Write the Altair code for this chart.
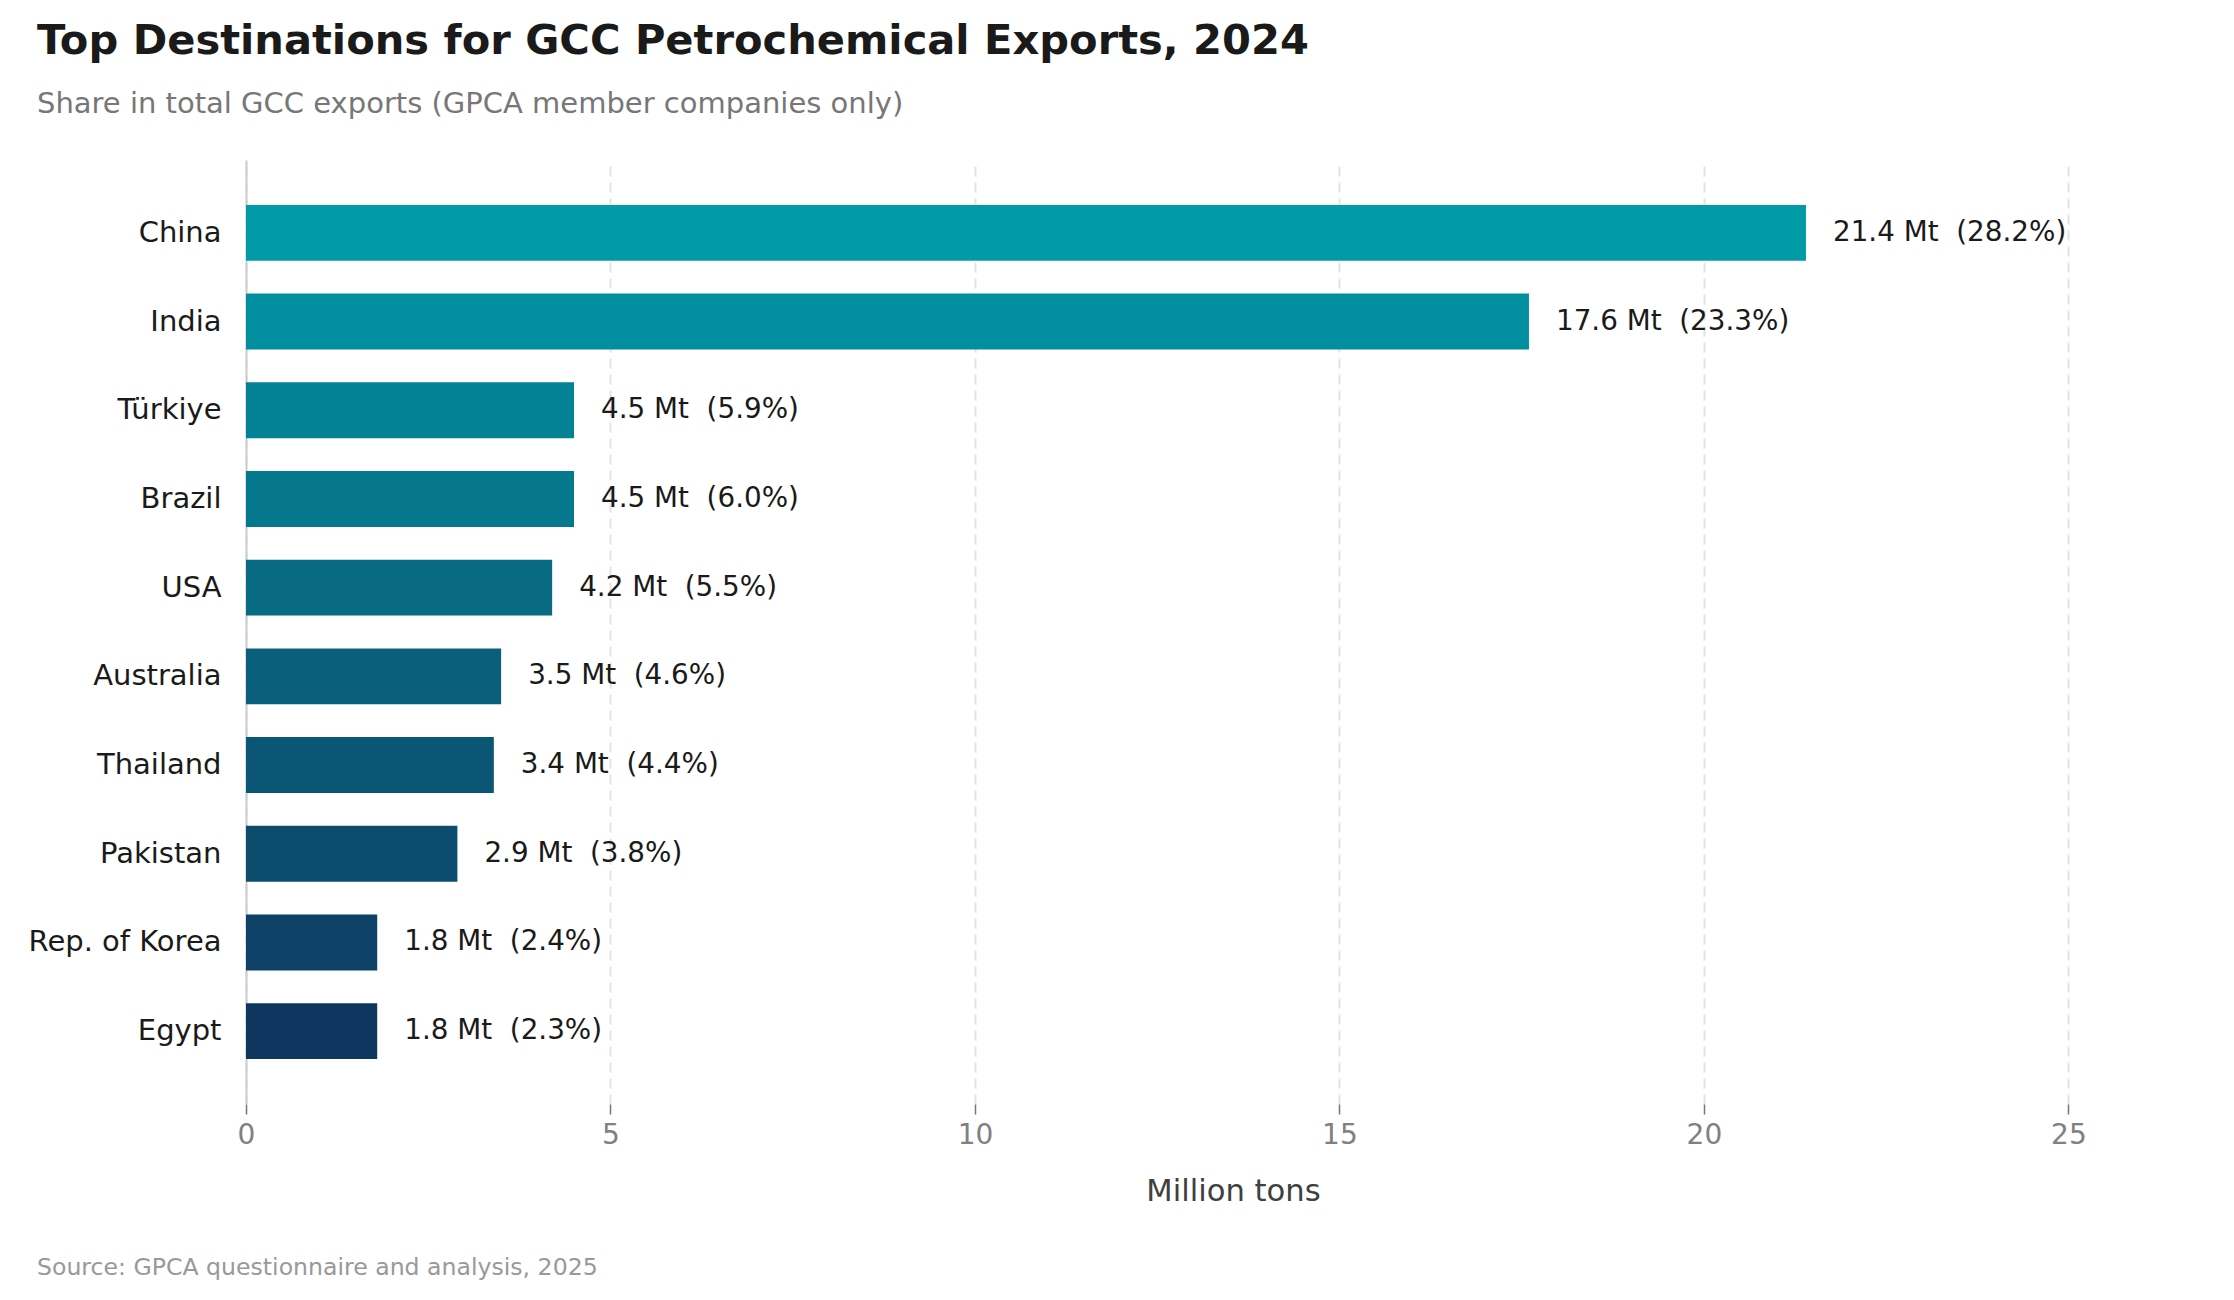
import altair as alt
import pandas as pd

countries = ["China", "India", "Türkiye", "Brazil", "USA", "Australia",
             "Thailand", "Pakistan", "Rep. of Korea", "Egypt"]
volumes = [21.4, 17.6, 4.5, 4.5, 4.2, 3.5, 3.4, 2.9, 1.8, 1.8]
shares = [28.2, 23.3, 5.9, 6.0, 5.5, 4.6, 4.4, 3.8, 2.4, 2.3]
colors = ["#009BA7", "#018E9E", "#038295", "#06788D", "#086B82",
          "#0A607A", "#0B5674", "#0C4C6C", "#0D4167", "#0E365F"]
x_ticks = [0, 5, 10, 15, 20, 25]
source_note = ["Source: GPCA questionnaire and analysis, 2025"]

df = pd.DataFrame({
    "country": countries,
    "volume": volumes,
    "share": shares,
    "color": colors,
})
df["label"] = [f"{v:.1f} Mt\u00a0 ({s:.1f}%)" for v, s in zip(volumes, shares)]

FONT = "DejaVu Sans"

y_enc = alt.Y(
    "country:N",
    sort=countries,
    scale=alt.Scale(paddingInner=0.37, paddingOuter=0.506),
    axis=alt.Axis(
        title=None, ticks=False, tickSize=0, domain=True, domainColor="#cccccc",
        domainWidth=2, labelFontSize=29, labelColor="#1a1a1a", labelPadding=25,
        labelFont=FONT, labelLimit=0, grid=False,
    ),
)
x_enc = alt.X(
    "volume:Q",
    scale=alt.Scale(domain=[0, 27.08], nice=False, zero=True),
    axis=alt.Axis(
        title="Million tons", values=x_ticks, format="d", domain=False,
        ticks=True, tickColor="#777777", tickSize=10, tickWidth=1.5,
        labelFontSize=28, labelColor="#808080", labelPadding=7, labelFont=FONT,
        labelFlush=False,
        titleFontSize=30.6, titleColor="#404040", titleFontWeight="normal",
        titlePadding=27, titleFont=FONT,
        grid=True, gridColor="#e3e3e3", gridDash=[10, 6], gridWidth=2,
    ),
)

bars = alt.Chart(df).mark_bar().encode(
    x=x_enc,
    y=y_enc,
    color=alt.Color("color:N", scale=None),
)

labels = alt.Chart(df).mark_text(
    align="left", baseline="middle", dx=27, fontSize=27.8, font=FONT, color="#1a1a1a"
).encode(
    x="volume:Q",
    y=alt.Y("country:N", sort=countries),
    text="label:N",
)

src = alt.Chart(pd.DataFrame({"t": source_note})).mark_text(
    align="left", baseline="alphabetic", fontSize=23.6, font=FONT, color="#999999"
).encode(
    x=alt.value(-209),
    y=alt.value(1115),
    text="t:N",
)

chart = alt.layer(bars, labels, src).properties(
    width=1974,
    height=944,
    padding={"left": 238, "top": 152, "right": 6, "bottom": 180},
    autosize=alt.AutoSizeParams(type="none"),
    background="white",
    title=alt.Title(
        "Top Destinations for GCC Petrochemical Exports, 2024",
        subtitle="Share in total GCC exports (GPCA member companies only)",
        anchor="start", frame="group", dx=-209, offset=41,
        font=FONT, fontSize=41.6, fontWeight="bold", color="#1a1a1a",
        subtitleFont=FONT, subtitleFontSize=29, subtitleColor="#777777",
        subtitlePadding=27,
    ),
).configure_view(stroke=None)

chart.save("out.html", embed_options={"renderer": "svg", "actions": False})
